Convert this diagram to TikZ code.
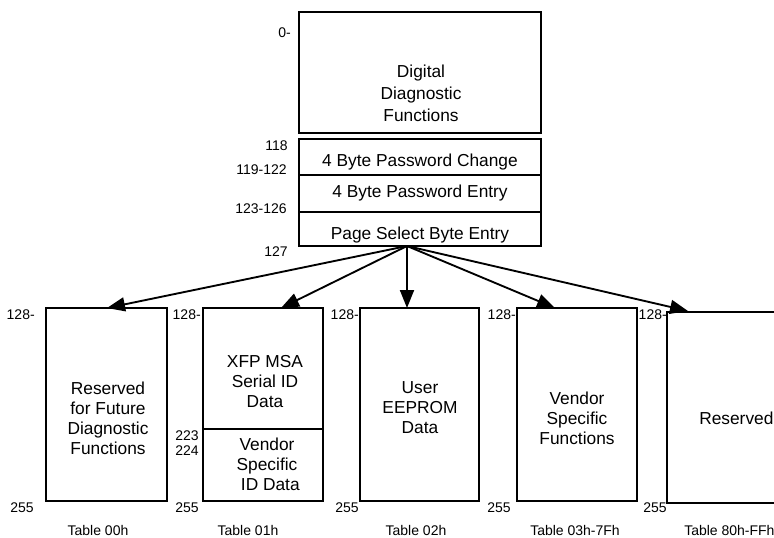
\documentclass[tikz,border=0pt]{standalone}
\usepackage{fontspec}
\setmainfont{Liberation Sans}
\usetikzlibrary{arrows.meta,calc}

\begin{document}
\begin{tikzpicture}[x=0.75pt,y=-0.75pt,
  memblk/.style={draw,line width=1.3pt,rectangle,anchor=north west,inner sep=0pt,outer sep=0pt},
  blktext/.style={align=center,inner sep=0pt,font=\fontsize{13}{15}\selectfont},
  addr/.style={inner sep=0pt,font=\fontsize{10.5}{12}\selectfont},
  tbl/.style={inner sep=0pt,font=\fontsize{10.5}{12}\selectfont},
  arr/.style={line width=1.4pt,-{Triangle[length=13.5pt,width=10.5pt]}}]

  \useasboundingbox (0,0) rectangle (774,537);

  % lower memory, bytes 0-127
  \node[memblk,minimum width=181.5pt,minimum height=90.75pt] (diag) at (299,12) {};
  \node[blktext,font=\fontsize{13}{16.5}\selectfont] (diagt) at (421,93) {Digital\\Diagnostic\\Functions};

  \node[memblk,minimum width=181.5pt,minimum height=27pt] (pwc) at (299,139) {};
  \node[memblk,minimum width=181.5pt,minimum height=27.75pt] (pwe) at (299,175) {};
  \node[memblk,minimum width=181.5pt,minimum height=25.5pt] (psb) at (299,212) {};
  \node[blktext] (pwct) at (420,162) {4 Byte Password Change};
  \node[blktext] (pwet) at (420,193) {4 Byte Password Entry};
  \node[blktext] (psbt) at (420,235) {Page Select Byte Entry};

  % addresses of the lower memory
  \node[addr,anchor=east] (a0) at (291,33) {0-};
  \node[addr,anchor=east] (a118) at (288,146) {118};
  \node[addr,anchor=east] (a119) at (287,170) {119-122};
  \node[addr,anchor=east] (a123) at (287,209) {123-126};
  \node[addr,anchor=east] (a127) at (288,252) {127};

  % upper pages, bytes 128-255
  \node[memblk,minimum width=90.75pt,minimum height=144.75pt] (b1) at (46,308) {};
  \node[memblk,minimum width=90pt,minimum height=90.75pt] (b2a) at (203,308) {};
  \node[memblk,minimum width=90pt,minimum height=54pt] (b2b) at (203,429) {};
  \node[memblk,minimum width=89.25pt,minimum height=144.75pt] (b3) at (360,308) {};
  \node[memblk,minimum width=90pt,minimum height=144.75pt] (b4) at (517,308) {};
  \node[memblk,minimum width=100pt,minimum height=143.25pt] (b5) at (667,312) {};

  \node[blktext] (b1t) at (108,418) {Reserved\\for Future\\Diagnostic\\Functions};
  \node[blktext] (b2at) at (265,382) {XFP MSA\\Serial ID\\Data};
  \node[blktext] (b2bt) at (267,464) {Vendor\\Specific\\\hspace*{5pt}ID Data};
  \node[blktext] (b3t) at (420,408) {User\\EEPROM\\Data};
  \node[blktext] (b4t) at (577,418) {Vendor\\Specific\\Functions};
  \node[blktext,anchor=west] (b5t) at (699,418) {Reserved};

  % addresses of the upper pages
  \node[addr,anchor=east] (b1s) at (35,315) {128-};
  \node[addr,anchor=east] (b2s) at (201,315) {128-};
  \node[addr,anchor=east] (b3s) at (359,315) {128-};
  \node[addr,anchor=east] (b4s) at (516,315) {128-};
  \node[addr,anchor=east] (b5s) at (667,315) {128-};
  \foreach \n/\x in {1/10,2/175,3/335,4/487,5/643}
    \node[addr,anchor=west] (b\n e) at (\x,508) {255};
  \node[addr,anchor=east] (b2m) at (199,436) {223};
  \node[addr,anchor=east] (b2n) at (199,451) {224};

  % table names
  \node[tbl] (tab1) at (98,530) {Table 00h};
  \node[tbl] (tab2) at (248,530) {Table 01h};
  \node[tbl] (tab3) at (416,530) {Table 02h};
  \node[tbl] (tab4) at (575,530) {Table 03h-7Fh};
  \node[tbl,anchor=west] (tab5) at (684,530) {Table 80h-FFh};

  % page select arrows
  \coordinate (sel) at ($(psb.south west)+(108,0)$);
  \draw[arr] (sel) -- ($(b1.north west)+(61,0)$);
  \draw[arr] (sel) -- ($(b2a.north west)+(78,0)$);
  \draw[arr] (sel) -- ($(b3.north west)+(47,0)$);
  \draw[arr] (sel) -- ($(b4.north west)+(38,0)$);
  \draw[arr] (sel) -- ($(b5.north west)+(21,-1)$);
\end{tikzpicture}
\end{document}
